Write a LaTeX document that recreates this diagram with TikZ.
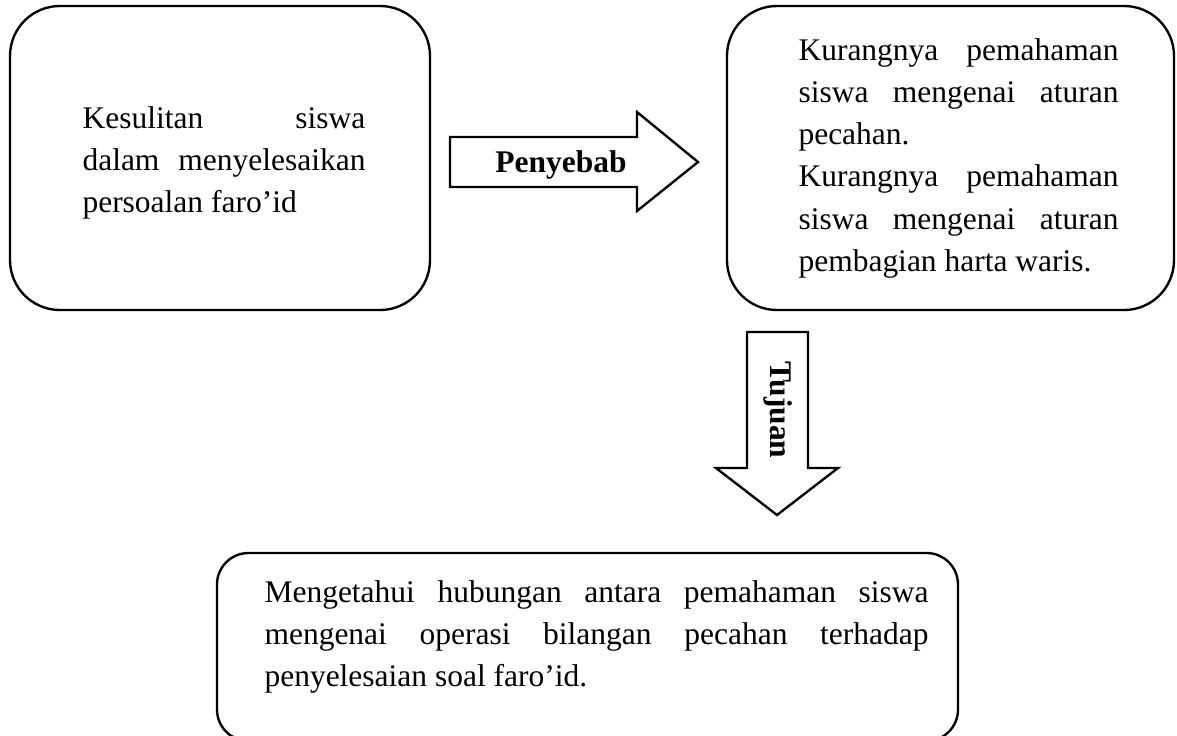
\documentclass[tikz,border=0pt]{standalone}
\usepackage{fontspec}
\setmainfont{Liberation Serif}
\usetikzlibrary{fit}
\begin{document}
\begin{tikzpicture}[x=0.381pt,y=-0.381pt,
  box/.style={draw,line width=0.9pt,inner sep=0pt},
  txt/.style={anchor=base west,inner sep=0pt,align=justify,font=\fontsize{12}{16.1}\selectfont},
  blockarrow/.style={draw,line width=0.9pt,line join=miter},
  lbl/.style={font=\fontsize{12}{14}\selectfont\bfseries,inner sep=0pt}]
\useasboundingbox (0,0) rectangle (1177,735);
% boxes
\node[box,rounded corners=19pt,fit={(10,6) (430,310)}] (leftbox) {};
\node[box,rounded corners=19pt,fit={(727,6) (1174,310)}] (rightbox) {};
\node[box,rounded corners=12pt,fit={(217,553) (958,741)}] (bottombox) {};
% texts
\node[txt,text width=107.8pt] (lefttxt) at (82,128)
  {Kesulitan siswa\linebreak dalam menyelesaikan\linebreak persoalan faro’id};
\node[txt,text width=121.9pt] (righttxt) at (798,60)
  {Kurangnya pemahaman\linebreak siswa mengenai aturan\linebreak pecahan.\\
   Kurangnya pemahaman\linebreak siswa mengenai aturan\linebreak pembagian harta waris.};
\node[txt,text width=253pt] (bottomtxt) at (264,602)
  {Mengetahui hubungan antara pemahaman siswa\linebreak mengenai operasi bilangan pecahan terhadap\linebreak penyelesaian soal faro’id.};
% block arrows
\draw[blockarrow] (450,137) -- (637,137) -- (637,112) -- (698,162) -- (637,211) -- (637,187) -- (450,187) -- cycle;
\draw[blockarrow] (747,332) -- (808,332) -- (808,468) -- (838,468) -- (777,515) -- (716,468) -- (747,468) -- cycle;
\node[lbl,anchor=base] (cause) at (561,172) {Penyebab};
\node[lbl,rotate=-90,anchor=base] (goal) at (770,410) {Tujuan};
\end{tikzpicture}
\end{document}
